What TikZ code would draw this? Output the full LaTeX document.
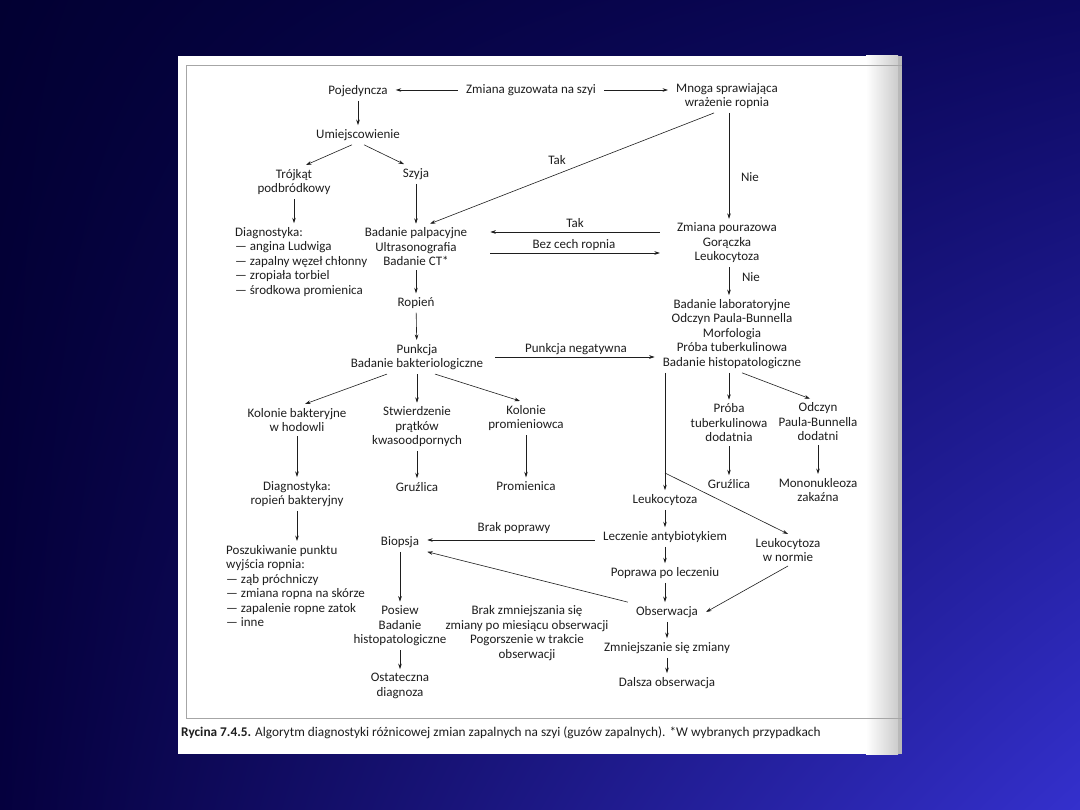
\documentclass[tikz,border=0pt]{standalone}
\usepackage{fontspec}
\setmainfont{Carlito}
\usetikzlibrary{arrows.meta,shadings}
\definecolor{bgul}{RGB}{2,0,50}
\definecolor{bgur}{RGB}{12,8,95}
\definecolor{bgll}{RGB}{5,0,62}
\definecolor{bglr}{RGB}{52,48,205}
\definecolor{ink}{RGB}{30,30,30}
\begin{document}
\begin{tikzpicture}[
            x=1pt, y=-1pt,
            box/.style={align=center, text=ink, font=\fontsize{13}{14.5}\selectfont, inner xsep=8pt, inner ysep=4pt},
            listbox/.style={box, align=left, anchor=west},
            lbl/.style={text=ink, font=\fontsize{13}{14.5}\selectfont, inner sep=1pt},
            arr/.style={draw=ink, line width=0.6pt, -{Stealth[length=5.5pt,width=3.6pt]}}
        ]
            \useasboundingbox (0,0) rectangle (1080,810);
            \shade[upper left=bgul, upper right=bgur, lower left=bgll, lower right=bglr] (0,0) rectangle (1080,810);
            \fill[white] (178,56) rectangle (902,754);
            \shade[left color=white, right color=gray!40] (866,56) rectangle (898,754);
            \fill[gray!55] (898,56) rectangle (902,754);
            \draw[gray!70, line width=0.8pt] (902,65) -- (186,65) -- (186,718) -- (902,718);

            \node[box] (zmiana) at (531,90) {Zmiana guzowata na szyi};
            \node[box] (pojed) at (358,91) {Pojedyncza};
            \node[box] (mnoga) at (727,96) {Mnoga sprawiająca\\wrażenie ropnia};
            \node[box] (umiejsc) at (358,135) {Umiejscowienie};
            \node[box] (trojkat) at (294,182) {Trójkąt\\podbródkowy};
            \node[box] (szyja) at (416,174) {Szyja};
            \node[listbox] (diag) at (227,262) {Diagnostyka:\\— angina Ludwiga\\— zapalny węzeł chłonny\\— zropiała torbiel\\— środkowa promienica};
            \node[box] (palp) at (416,247) {Badanie palpacyjne\\Ultrasonografia\\Badanie CT*};
            \node[box] (pour) at (727,243) {Zmiana pourazowa\\Gorączka\\Leukocytoza};
            \node[box] (ropien) at (416,303) {Ropień};
            \node[box] (punkcja) at (417,357) {Punkcja\\Badanie bakteriologiczne};
            \node[box] (lab) at (732,334) {Badanie laboratoryjne\\Odczyn Paula-Bunnella\\Morfologia\\Próba tuberkulinowa\\Badanie histopatologiczne};
            \node[box] (kolbakt) at (297,420) {Kolonie bakteryjne\\w hodowli};
            \node[box] (stwierdz) at (417,427) {Stwierdzenie\\prątków\\kwasoodpornych};
            \node[box] (kolprom) at (526,418) {Kolonie\\promieniowca};
            \node[box] (diagrop) at (297,494) {Diagnostyka:\\ropień bakteryjny};
            \node[box] (gruz1) at (417,487) {Gruźlica};
            \node[box] (promien) at (526,486) {Promienica};
            \node[box] (proba) at (729,423) {Próba\\tuberkulinowa\\dodatnia};
            \node[box] (odczyn) at (818,422) {Odczyn\\Paula-Bunnella\\dodatni};
            \node[box] (gruz2) at (729,484) {Gruźlica};
            \node[box] (mono) at (818,490) {Mononukleoza\\zakaźna};
            \node[listbox] (poszuk) at (218,586) {Poszukiwanie punktu\\wyjścia ropnia:\\— ząb próchniczy\\— zmiana ropna na skórze\\— zapalenie ropne zatok\\— inne};
            \node[box] (leuko) at (665,500) {Leukocytoza};
            \node[box] (normie) at (788,550) {Leukocytoza\\w normie};
            \node[box] (leczenie) at (665,537) {Leczenie antybiotykiem};
            \node[box] (biopsja) at (400,542) {Biopsja};
            \node[box] (poprawa) at (665,573) {Poprawa po leczeniu};
            \node[box] (obserw) at (667,612) {Obserwacja};
            \node[box] (posiew) at (400,626) {Posiew\\Badanie\\histopatologiczne};
            \node[box] (brak) at (527,633) {Brak zmniejszania się\\zmiany po miesiącu obserwacji\\Pogorszenie w trakcie\\obserwacji};
            \node[box] (ostat) at (400,686) {Ostateczna\\diagnoza};
            \node[box] (zmniej) at (667,648) {Zmniejszanie się zmiany};
            \node[box] (dalsza) at (667,683) {Dalsza obserwacja};
            \coordinate (split) at (665,473);

            \node[lbl] at (557,160) {Tak};
            \node[lbl] at (750,177) {Nie};
            \node[lbl] at (575,223) {Tak};
            \node[lbl] at (574,245) {Bez cech ropnia};
            \node[lbl] at (751,277) {Nie};
            \node[lbl] at (576,349) {Punkcja negatywna};
            \node[lbl] at (514,528) {Brak poprawy};

            \node[anchor=west, text=ink, font=\fontsize{13.3}{15}\selectfont, inner sep=0pt] (caption) at (181,733)
                {\textbf{Rycina 7.4.5.} Algorytm diagnostyki różnicowej zmian zapalnych na szyi (guzów zapalnych). *W wybranych przypadkach};

            \draw[arr] (zmiana.west) -- (zmiana.west -| pojed.east);
            \draw[arr] (zmiana.east) -- (zmiana.east -| mnoga.west);
            \draw[arr] (pojed) -- (umiejsc);
            \draw[arr] ([xshift=-6pt]umiejsc.south) -- ([xshift=12pt]trojkat.north);
            \draw[arr] ([xshift=6pt]umiejsc.south) -- ([xshift=-12pt]szyja.north);
            \draw[arr] (trojkat) -- (trojkat |- diag.north);
            \draw[arr] (szyja) -- (palp);
            \draw[arr] ([xshift=-13pt]mnoga.south) -- ([xshift=14pt]palp.north);
            \draw[arr] ([xshift=2pt]mnoga.south) -- ([xshift=2pt]mnoga.south |- pour.north);
            \draw[arr, shorten <=9pt, shorten >=15pt] ([yshift=11pt]pour.west) -- ([yshift=11pt]pour.west -| palp.east);
            \draw[arr, shorten <=15pt, shorten >=9pt] ([yshift=-10pt]pour.west -| palp.east) -- ([yshift=-10pt]pour.west);
            \draw[arr] ([xshift=2pt]pour.south) -- ([xshift=2pt]pour.south |- lab.north);
            \draw[arr] (palp) -- (ropien);
            \draw[arr] (ropien) -- (punkcja);
            \draw[arr, shorten <=4pt] (punkcja.east |- 0,357) -- (lab.west |- 0,357);
            \draw[arr] ([xshift=-30pt]punkcja.south) -- ([xshift=8pt]kolbakt.north);
            \draw[arr] (punkcja) -- (stwierdz);
            \draw[arr] ([xshift=18pt]punkcja.south) -- ([xshift=-6pt]kolprom.north);
            \draw[arr] (kolbakt) -- (diagrop);
            \draw[arr] (stwierdz) -- (gruz1);
            \draw[arr] (kolprom) -- (promien);
            \draw[arr] (lab.south -| proba) -- (proba);
            \draw[arr] ([xshift=10pt]lab.south) -- ([xshift=-8pt]odczyn.north);
            \draw[arr] (proba) -- (gruz2);
            \draw[arr] (odczyn) -- (mono);
            \draw[arr] (lab.south -| leuko.north) -- (leuko);
            \draw[arr] (split) -- (normie.north);
            \draw[arr] (leuko) -- (leczenie);
            \draw[arr] ([yshift=-3pt]leczenie.west) -- ([yshift=-3pt]leczenie.west -| biopsja.east);
            \draw[arr] (leczenie) -- (poprawa);
            \draw[arr] (poprawa) -- (poprawa |- obserw.north);
            \draw[arr] (normie.south) -- (obserw.east);
            \draw[arr] (obserw.north west) -- (biopsja.south east);
            \draw[arr] (diagrop) -- (diagrop |- poszuk.north);
            \draw[arr] (biopsja) -- (posiew);
            \draw[arr] (posiew) -- (ostat);
            \draw[arr] (obserw) -- (zmniej);
            \draw[arr] (zmniej) -- (dalsza);
        \end{tikzpicture}
\end{document}
